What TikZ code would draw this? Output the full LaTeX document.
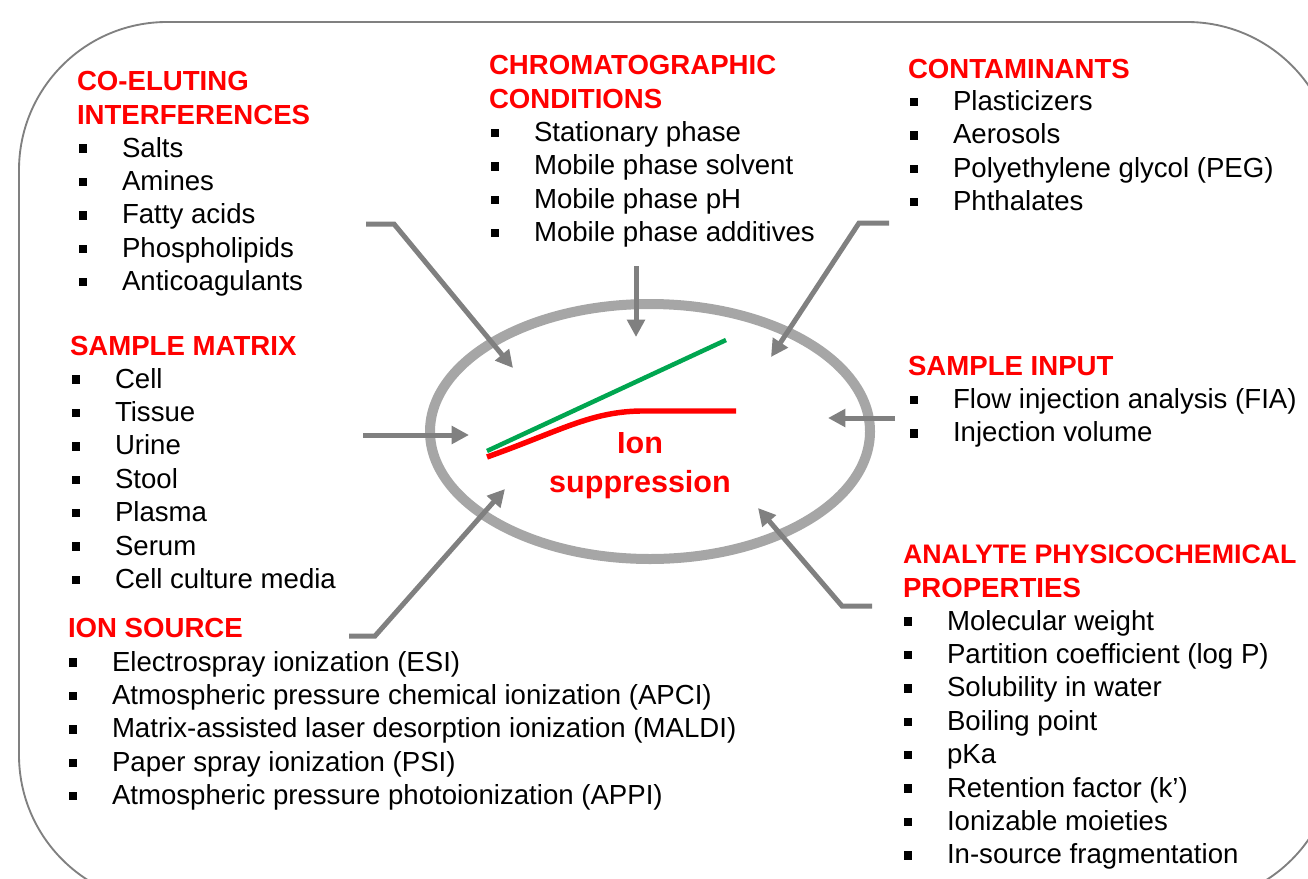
\documentclass[tikz,border=0pt]{standalone}
\usepackage{fontspec}
\setmainfont{Liberation Sans}
\usetikzlibrary{arrows.meta,shapes.geometric}
\definecolor{hdred}{HTML}{FF0000}
\definecolor{arrgray}{HTML}{808080}
\definecolor{ringgray}{HTML}{A6A6A6}
\definecolor{curvegreen}{HTML}{00A650}
\newcommand{\bq}{\llap{\rule[3.2pt]{6.2pt}{6.2pt}\hspace{26.05pt}}}
\tikzset{
  itemtext/.style={anchor=base west, inner sep=0pt, outer sep=0pt,
    font=\fontsize{20.7}{25}\selectfont, text=black},
  headtext/.style={anchor=base west, inner sep=0pt, outer sep=0pt,
    font=\fontsize{20.7}{25}\selectfont\bfseries, text=hdred},
  arr/.style={draw=arrgray, line width=3.75pt, line join=miter,
    -{Triangle[length=13pt,width=13pt]}},
}
\begin{document}
\begin{tikzpicture}[x=0.75pt,y=-0.75pt]
\useasboundingbox (0,0) rectangle (1308,878);
\begin{scope}
  \clip (0,0) rectangle (1308,878);
  \draw[arrgray, line width=1.4pt, rounded corners=111pt] (19,22) rectangle (1335,903);
\end{scope}

% central ellipse
\node[draw=ringgray, line width=7.5pt, ellipse, inner sep=0pt, outer sep=0pt,
  minimum width=330pt, minimum height=191.25pt] (ring) at (650,431.5) {};

% curves
\draw[hdred, line width=4.1pt] (487,457) .. controls (560,431) and (590,412) .. (640,411) -- (736,411);
\draw[curvegreen, line width=3.4pt] (487,451) -- (726,340);

\node[anchor=base, inner sep=0pt, font=\fontsize{22.9}{28}\selectfont\bfseries, text=hdred] (ion1) at (640,453) {Ion};
\node[anchor=base, inner sep=0pt, font=\fontsize{22.9}{28}\selectfont\bfseries, text=hdred] (ion2) at (640,492) {suppression};

% CO-ELUTING INTERFERENCES
\node[headtext] (coh1) at (77,90) {CO-ELUTING};
\node[headtext] (coh2) at (77,124) {INTERFERENCES};
\foreach \t [count=\i] in {Salts,Amines,Fatty acids,Phospholipids,Anticoagulants}
  \node[itemtext] (co\i) at (122,{157+33.4*(\i-1)}) {\bq\t};

% CHROMATOGRAPHIC CONDITIONS
\node[headtext] (chh1) at (489,74.5) {CHROMATOGRAPHIC};
\node[headtext] (chh2) at (489,108) {CONDITIONS};
\foreach \t [count=\i] in {Stationary phase,Mobile phase solvent,Mobile phase pH,Mobile phase additives}
  \node[itemtext] (ch\i) at (534,{141.5+33.4*(\i-1)}) {\bq\t};

% CONTAMINANTS
\node[headtext] (cth) at (908,78) {CONTAMINANTS};
\foreach \t [count=\i] in {Plasticizers,Aerosols,Polyethylene glycol (PEG),Phthalates}
  \node[itemtext] (ct\i) at (953,{110.5+33.4*(\i-1)}) {\bq\t};

% SAMPLE MATRIX
\node[headtext] (smh) at (70,355) {SAMPLE MATRIX};
\foreach \t [count=\i] in {Cell,Tissue,Urine,Stool,Plasma,Serum,Cell culture media}
  \node[itemtext] (sm\i) at (115,{388+33.4*(\i-1)}) {\bq\t};

% ION SOURCE
\node[headtext] (ish) at (68,637) {ION SOURCE};
\foreach \t [count=\i] in {Electrospray ionization (ESI),Atmospheric pressure chemical ionization (APCI),Matrix-assisted laser desorption ionization (MALDI),Paper spray ionization (PSI),Atmospheric pressure photoionization (APPI)}
  \node[itemtext] (is\i) at (112,{671+33.4*(\i-1)}) {\bq\t};

% SAMPLE INPUT
\node[headtext] (sih) at (908,375) {SAMPLE INPUT};
\foreach \t [count=\i] in {Flow injection analysis (FIA),Injection volume}
  \node[itemtext] (si\i) at (953,{408.5+33.4*(\i-1)}) {\bq\t};

% ANALYTE PHYSICOCHEMICAL PROPERTIES
\node[headtext, font=\fontsize{20.1}{25}\selectfont\bfseries] (anh1) at (903,563) {ANALYTE PHYSICOCHEMICAL};
\node[headtext] (anh2) at (903,597) {PROPERTIES};
\foreach \t [count=\i] in {Molecular weight,Partition coefficient (log P),Solubility in water,Boiling point,pKa,Retention factor (k’),Ionizable moieties,In-source fragmentation}
  \node[itemtext] (an\i) at (947,{630+33.4*(\i-1)}) {\bq\t};

% arrows
\coordinate (a1s) at (366,224); \coordinate (a1k) at (394,224); \coordinate (a1t) at (513,368);
\coordinate (a2s) at (636,266); \coordinate (a2t) at (636,337);
\coordinate (a3s) at (889,223); \coordinate (a3k) at (859,223); \coordinate (a3t) at (771,357);
\coordinate (a4s) at (363,435); \coordinate (a4t) at (469,435);
\coordinate (a5s) at (895,418); \coordinate (a5t) at (828,418);
\coordinate (a6s) at (349,636); \coordinate (a6k) at (375,636); \coordinate (a6t) at (505,489);
\coordinate (a7s) at (872,606); \coordinate (a7k) at (842,606); \coordinate (a7t) at (758,508);
\draw[arr] (a1s) -- (a1k) -- (a1t);
\draw[arr] (a2s) -- (a2t);
\draw[arr] (a3s) -- (a3k) -- (a3t);
\draw[arr] (a4s) -- (a4t);
\draw[arr] (a5s) -- (a5t);
\draw[arr] (a6s) -- (a6k) -- (a6t);
\draw[arr] (a7s) -- (a7k) -- (a7t);
\end{tikzpicture}
\end{document}
